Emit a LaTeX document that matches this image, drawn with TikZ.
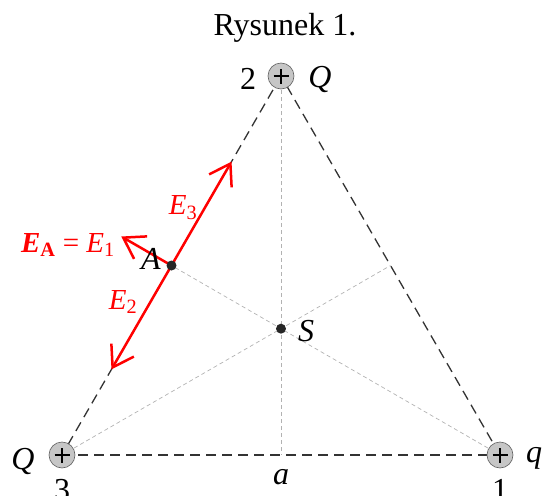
\documentclass[tikz,border=0pt]{standalone}
\usepackage{fontspec}
\setmainfont{Liberation Serif}
\usetikzlibrary{arrows.meta,calc}

\tikzset{
  charge/.style={circle, draw=gray!75!black, fill=gray!45, line width=0.6pt,
    minimum size=26pt, inner sep=0pt,
    path picture={\draw[black, line width=1.8pt]
      ($(path picture bounding box.center)+(-7.5pt,0)$) -- ($(path picture bounding box.center)+(7.5pt,0)$)
      ($(path picture bounding box.center)+(0,-7.5pt)$) -- ($(path picture bounding box.center)+(0,7.5pt)$);}},
  side/.style={black!80, line width=1.3pt, dash pattern=on 10pt off 6pt},
  median/.style={gray!60, line width=0.7pt, dash pattern=on 4pt off 3pt},
  field/.style={red, line width=2.5pt, -{Straight Barb[length=20pt,width=26pt,line width=2.5pt]}},
  lbl/.style={font=\fontsize{32}{32}\selectfont\itshape},
  num/.style={font=\fontsize{32}{32}\selectfont},
  rlbl/.style={font=\fontsize{29}{29}\selectfont\itshape, red},
  dot/.style={circle, fill=black!85, minimum size=10pt, inner sep=0pt},
}

\begin{document}
\begin{tikzpicture}[x=1pt, y=-1pt]
    \useasboundingbox (0,0) rectangle (542,496);

    % Title
    \node[font=\fontsize{32}{32}\selectfont] (title) at (285,28) {Rysunek 1.};

    % Vertices and midpoints
    \coordinate (v1) at (500,455);
    \coordinate (v2) at (281,76);
    \coordinate (v3) at (62,455);
    \coordinate (m13) at ($(v1)!0.5!(v3)$);
    \coordinate (m12) at ($(v1)!0.5!(v2)$);
    \coordinate (A) at ($(v2)!0.5!(v3)$);
    \coordinate (S) at ($(v3)!2/3!(m12)$);

    % Medians
    \draw[median] (v2) -- (m13);
    \draw[median] (v1) -- (A);
    \draw[median] (v3) -- (m12);

    % Sides
    \draw[side] (v3) -- (v1);
    \draw[side] (v1) -- (v2);
    \draw[side] (v2) -- (v3);

    % Field vectors at A
    \coordinate (e3) at ($(A)!120pt!(v2)$);
    \coordinate (e2) at ($(A)!120pt!(v3)$);
    \coordinate (e1) at ($(A)!58pt!90:(v2)$);
    \draw[field] (A) -- (e3);
    \draw[field] (A) -- (e2);
    \draw[field] (A) -- (e1);

    % Points
    \node[dot] (dA) at (A) {};
    \node[dot] (dS) at (S) {};

    % Charges
    \node[charge] (c1) at (v1) {};
    \node[charge] (c2) at (v2) {};
    \node[charge] (c3) at (v3) {};

    % Labels
    \node[num] (n2) at (248,79) {2};
    \node[lbl] (Q2) at (320,79) {Q};
    \node[lbl] (Q3) at (23,461) {Q};
    \node[num] (n3) at (62,490) {3};
    \node[lbl] (q1) at (534,458) {q};
    \node[num] (n1) at (500,490) {1};
    \node[lbl] (la) at (281,477) {a};
    \node[lbl] (lS) at (306,331) {S};
    \node[lbl] (lA) at (151,259) {A};
    \node[rlbl] (lE3) at (183,208) {E\textsubscript{\upshape 3}};
    \node[rlbl] (lE2) at (123,302) {E\textsubscript{\upshape 2}};
    \node[rlbl] (lEA) at (68,245) {\textbf{E\textsubscript{\upshape A}} {\upshape =} E\textsubscript{\upshape 1}};
\end{tikzpicture}
\end{document}
